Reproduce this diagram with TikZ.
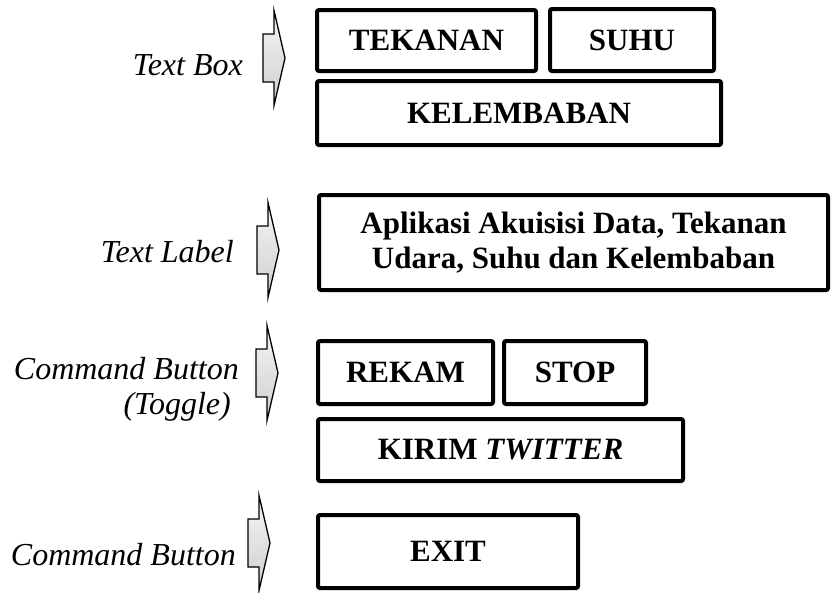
\documentclass[tikz,border=0pt]{standalone}
\usepackage{fontspec}
\setmainfont{Liberation Serif}
\usetikzlibrary{positioning}

\tikzset{
  box/.style={draw,line width=4pt,rounded corners=2pt,inner sep=0pt,
    font=\fontsize{31}{35}\selectfont\bfseries,align=center},
  caption/.style={inner sep=0pt,font=\fontsize{32}{35}\selectfont\itshape,align=right},
  pointer/.style={draw=black,line width=1.3pt,top color=gray!8,bottom color=gray!38},
  blockarrow/.pic={
    \draw[pointer] (-22,-24) -- (-11,-24) -- (-11,-47.5) -- (0,0)
      -- (-11,47.5) -- (-11,24) -- (-22,24) -- cycle;
  }
}

\begin{document}
\begin{tikzpicture}[x=1pt,y=-1pt]
\useasboundingbox (0,0) rectangle (835,592);

\node[caption,anchor=base east](text box) at (243,75) {Text Box};
\node[caption,anchor=base east](text label) at (234,262) {Text Label};
\node[caption,anchor=east](toggle) at (239,389) {Command Button\\(Toggle)\kern8pt};
\node[caption,anchor=base east](command) at (236,565) {Command Button};

\pic at (285,58) {blockarrow};
\pic at (279,250) {blockarrow};
\pic at (278,373) {blockarrow};
\pic at (270,543) {blockarrow};

\node[box,minimum width=219pt,minimum height=61pt](tekanan) at (426.5,40.5) {TEKANAN};
\node[box,minimum width=164pt,minimum height=62pt](suhu) at (632,40) {SUHU};
\node[box,minimum width=404pt,minimum height=64pt](kelembaban) at (519,113) {KELEMBABAN};

\node[box,minimum width=509pt,minimum height=95pt](judul) at (573.5,242.5)
  {Aplikasi Akuisisi Data, Tekanan\\Udara, Suhu dan Kelembaban};

\node[box,minimum width=175pt,minimum height=63pt](rekam) at (405.5,372.5) {REKAM};
\node[box,minimum width=142pt,minimum height=63pt](stop) at (575,372.5) {STOP};
\node[box,minimum width=365pt,minimum height=62pt](kirim) at (500.5,450) {KIRIM \textit{TWITTER}};

\node[box,minimum width=260pt,minimum height=73pt](exit) at (448,551.5) {EXIT};

\end{tikzpicture}
\end{document}
